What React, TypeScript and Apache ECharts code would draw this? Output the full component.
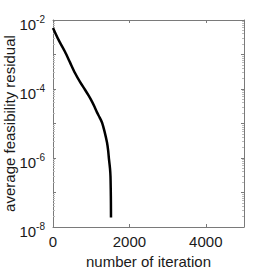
import React, { useEffect, useRef } from "react";
import * as echarts from "echarts";

const iterations = [0, 150, 314, 445, 576, 707, 838, 930, 1021, 1090, 1152, 1220, 1283, 1350, 1414, 1445, 1466, 1492, 1505, 1512, 1516, 1518];
const residuals = [5.9e-3, 2.6e-3, 1.2e-3, 5.9e-4, 2.9e-4, 1.6e-4, 9.5e-5, 6.5e-5, 4.3e-5, 3.0e-5, 2.1e-5, 1.5e-5, 1.07e-5, 5.8e-6, 2.8e-6, 1.6e-6, 9.1e-7, 5.0e-7, 2.9e-7, 1.2e-7, 5e-8, 1.9e-8];
const xTicks = [0, 2000, 4000];
const xLabel = "number of iteration";
const yLabel = "average feasibility residual";

export default function App() {
  const ref = useRef<HTMLDivElement>(null);
  useEffect(() => {
    if (!ref.current) return;
    const chart = echarts.init(ref.current, undefined, { renderer: "svg" });
    const axisColor = "#7a7a7a";
    const font = "Liberation Sans, Arial, sans-serif";
    const textColor = "#1a1a1a";
    chart.setOption({
      animation: false,
      grid: { left: 53, top: 20, right: 26, bottom: 43, containLabel: false, outerBoundsMode: "none" },
      xAxis: [
        {
          type: "value",
          min: 0,
          max: 5000,
          interval: 2000,
          position: "bottom",
          name: xLabel,
          nameLocation: "middle",
          nameGap: 27,
          nameMoveOverlap: false,
          nameTextStyle: { color: textColor, fontSize: 15, fontFamily: font },
          axisLine: { show: true, onZero: false, lineStyle: { color: axisColor, width: 1 } },
          axisTick: { show: true, inside: true, length: 3, lineStyle: { color: axisColor } },
          axisLabel: {
            color: textColor,
            fontSize: 15,
            fontFamily: font,
            margin: 7,
            formatter: (v: number) => (xTicks.includes(v) ? String(v) : ""),
          },
          splitLine: { show: false },
        },
        {
          type: "value",
          min: 0,
          max: 5000,
          interval: 2000,
          position: "top",
          axisLine: { show: true, onZero: false, lineStyle: { color: axisColor, width: 1 } },
          axisTick: { show: true, inside: true, length: 3, lineStyle: { color: axisColor } },
          axisLabel: { show: false },
          splitLine: { show: false },
        },
      ],
      yAxis: [
        {
          type: "log",
          logBase: 10,
          min: 1e-8,
          max: 1e-2,
          interval: 1,
          position: "left",
          name: yLabel,
          nameLocation: "middle",
          nameGap: 36,
          nameMoveOverlap: false,
          nameTextStyle: { color: textColor, fontSize: 15, fontFamily: font },
          axisLine: { show: true, onZero: false, lineStyle: { color: axisColor, width: 1 } },
          axisTick: { show: true, inside: true, length: 3, lineStyle: { color: axisColor } },
          minorTick: { show: true, splitNumber: 9, length: 2, lineStyle: { color: "#bbb" } },
          axisLabel: {
            color: textColor,
            fontSize: 15,
            fontFamily: font,
            margin: 8,
            formatter: (v: number) => {
              const e = Math.round(Math.log10(v));
              if (e % 2 !== 0) return "";
              return `{b|10}{s|${e}}`;
            },
            rich: {
              b: { fontSize: 15, fontFamily: font, color: textColor, verticalAlign: "bottom", padding: [9, 0, 0, 0] },
              s: { fontSize: 10, fontFamily: font, color: textColor, verticalAlign: "bottom", padding: [0, 0, 8, 0] },
            },
          },
          splitLine: { show: false },
        },
        {
          type: "log",
          logBase: 10,
          min: 1e-8,
          max: 1e-2,
          interval: 1,
          position: "right",
          axisLine: { show: true, onZero: false, lineStyle: { color: axisColor, width: 1 } },
          axisTick: { show: true, inside: true, length: 3, lineStyle: { color: axisColor } },
          minorTick: { show: true, splitNumber: 9, length: 2, lineStyle: { color: "#bbb" } },
          axisLabel: { show: false },
          splitLine: { show: false },
        },
      ],
      series: [
        {
          type: "line",
          xAxisIndex: 0,
          yAxisIndex: 0,
          data: iterations.map((x, i) => [x, residuals[i]]),
          showSymbol: false,
          smooth: 0.25,
          lineStyle: { color: "#000", width: 2.5 },
        },
      ],
    });
    return () => chart.dispose();
  }, []);
  return <div ref={ref} style={{ width: 270, height: 270, position: "absolute", left: 0, top: 0 }} />;
}
